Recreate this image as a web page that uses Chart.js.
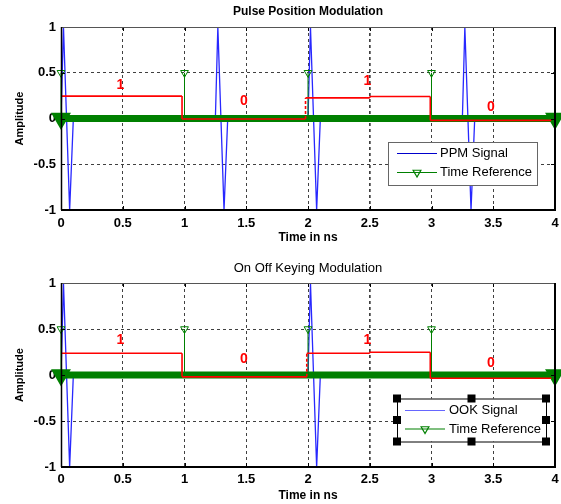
<!DOCTYPE html>
<html>
<head>
<meta charset="utf-8">
<script src="https://cdn.jsdelivr.net/npm/chart.js@4.4.0/dist/chart.umd.min.js"></script>
<style>
  body { margin: 0; background: #fff; }
  .plot { position: relative; width: 561px; height: 252px; }
</style>
</head>
<body>
<div class="plot"><canvas id="ppmChart" width="561" height="252"></canvas></div>
<div class="plot"><canvas id="ookChart" width="561" height="252"></canvas></div>
<script>
// ---- values (time in ns, amplitude) ----
const xTicks = [0, 0.5, 1, 1.5, 2, 2.5, 3, 3.5, 4];
const yTicks = [-1, -0.5, 0, 0.5, 1];

const bits = ["1", "0", "1", "0"];
const bitLabelTime = [0.48, 1.48, 2.48, 3.48];
const ppmBitLabelAmp = [0.37, 0.19, 0.41, 0.12];
const ookBitLabelAmp = [0.38, 0.17, 0.38, 0.13];

// time reference stems
const refTime = [0, 1, 2, 3];
const refAmp = [0.5, 0.5, 0.5, 0.5];
// dense reference markers along zero
const baseTime = [0, 4];
const baseAmp = [0, 0];

// PPM signal (bit 0 -> pulse shifted by 0.25 ns)
const ppmTime = [0, 0.02, 0.045, 0.07, 0.1, 1.25, 1.27, 1.295, 1.32, 1.35,
                 2.0, 2.02, 2.045, 2.07, 2.1, 3.25, 3.27, 3.295, 3.32, 3.35, 4];
const ppmAmp = [0, 1, 0, -1, 0, 0, 1, 0, -1, 0,
                0, 1, 0, -1, 0, 0, 1, 0, -1, 0, 0];

// OOK signal (pulses only for bit 1)
const ookTime = [0, 0.02, 0.045, 0.07, 0.1, 2.0, 2.02, 2.045, 2.07, 2.1, 4];
const ookAmp = [0, 1, 0, -1, 0, 0, 1, 0, -1, 0, 0];

// data bits (red)
const ppmBitTime = [0, 0.98, 0.98, 1.98, 1.98, 2.5, 2.5, 2.99, 2.99, 3.97];
const ppmBitAmp = [0.245, 0.245, -0.005, -0.005, 0.225, 0.225, 0.24, 0.24, -0.02, -0.02];
const ookBitTime = [0, 0.98, 0.98, 1.99, 1.99, 2.5, 2.5, 2.99, 2.99, 3.97];
const ookBitAmp = [0.237, 0.237, -0.02, -0.02, 0.237, 0.237, 0.248, 0.248, -0.035, -0.035];

const FONT = "'Liberation Sans', Arial, Helvetica, sans-serif";
const GREEN = "#008000";

function xy(xs, ys) {
  return xs.map((x, i) => ({ x: x, y: ys[i] }));
}

function stems(xs, ys) {
  const pts = [];
  xs.forEach((x, i) => {
    pts.push({ x: x, y: 0 }, { x: x, y: ys[i] }, { x: x, y: null });
  });
  return pts;
}

function downTriangle(ctx, x, y, r) {
  ctx.beginPath();
  ctx.moveTo(x, y + r);
  ctx.lineTo(x - r * 0.866, y - r * 0.5);
  ctx.lineTo(x + r * 0.866, y - r * 0.5);
  ctx.closePath();
  ctx.stroke();
}

// axes box, inner ticks, bit labels and the legend
const matlabAxes = {
  id: "matlabAxes",
  afterDatasetsDraw(chart, args, opts) {
    const { ctx, chartArea: a, scales } = chart;
    ctx.save();

    // bit labels
    ctx.fillStyle = "#ff0000";
    ctx.font = "bold 14px " + FONT;
    ctx.textAlign = "center";
    ctx.textBaseline = "middle";
    bits.forEach((b, i) => {
      ctx.fillText(b, scales.x.getPixelForValue(bitLabelTime[i]),
        scales.y.getPixelForValue(opts.bitAmp[i]));
    });

    // inner tick marks
    ctx.strokeStyle = "#000";
    ctx.lineWidth = 1;
    ctx.beginPath();
    xTicks.forEach(v => {
      const px = Math.round(scales.x.getPixelForValue(v)) + 0.5;
      ctx.moveTo(px, a.bottom); ctx.lineTo(px, a.bottom - 4);
      ctx.moveTo(px, a.top); ctx.lineTo(px, a.top + 4);
    });
    yTicks.forEach(v => {
      const py = Math.round(scales.y.getPixelForValue(v)) + 0.5;
      ctx.moveTo(a.left, py); ctx.lineTo(a.left + 4, py);
      ctx.moveTo(a.right, py); ctx.lineTo(a.right - 4, py);
    });
    ctx.stroke();

    // box
    ctx.strokeStyle = "#555";
    ctx.beginPath();
    ctx.moveTo(a.left, a.top + 0.5); ctx.lineTo(a.right, a.top + 0.5);
    ctx.stroke();
    ctx.strokeStyle = "#000";
    ctx.lineWidth = 1.5;
    ctx.beginPath();
    ctx.moveTo(a.left + 0.5, a.top); ctx.lineTo(a.left + 0.5, a.bottom);
    ctx.stroke();
    ctx.lineWidth = 2;
    ctx.beginPath();
    ctx.moveTo(a.left, a.bottom); ctx.lineTo(a.right, a.bottom);
    ctx.moveTo(a.right, a.top); ctx.lineTo(a.right, a.bottom + 1);
    ctx.stroke();

    // legend
    const L = opts.legend;
    ctx.fillStyle = "#fff";
    ctx.fillRect(L.x, L.y, L.w, L.h);
    ctx.strokeStyle = L.border;
    ctx.lineWidth = 1;
    ctx.strokeRect(L.x + 0.5, L.y + 0.5, L.w, L.h);
    L.items.forEach((it, i) => {
      const y = L.y + L.rows[i];
      ctx.strokeStyle = it.color;
      ctx.lineWidth = 1.2;
      ctx.beginPath();
      ctx.moveTo(L.x + L.line[0], y);
      ctx.lineTo(L.x + L.line[1], y);
      ctx.stroke();
      if (it.marker) {
        downTriangle(ctx, L.x + (L.line[0] + L.line[1]) / 2, y, 4.5);
      }
      ctx.fillStyle = "#000";
      ctx.font = "13px " + FONT;
      ctx.textAlign = "left";
      ctx.textBaseline = "middle";
      ctx.fillText(it.text, L.x + L.textX, y);
    });
    if (L.handles) {
      ctx.fillStyle = "#000";
      const hx = [L.x, L.x + L.w / 2, L.x + L.w];
      const hy = [L.y, L.y + L.h / 2, L.y + L.h];
      hx.forEach((x, i) => hy.forEach((y, j) => {
        if (i === 1 && j === 1) return;
        ctx.fillRect(x - 4, y - 4, 8, 8);
      }));
    }
    ctx.restore();
  }
};

function makeChart(id, cfg) {
  return new Chart(document.getElementById(id), {
    type: "line",
    data: {
      datasets: [
        {
          label: "data",
          data: xy(cfg.bitTime, cfg.bitAmp),
          borderColor: "#ff0000",
          borderWidth: 1.6,
          segment: {
            borderDash: c => (c.p0.parsed.x === c.p1.parsed.x ? [3, 2] : undefined)
          }
        },
        {
          label: "Time Reference",
          data: stems(refTime, refAmp),
          borderColor: GREEN,
          borderWidth: 1,
          pointStyle: "triangle",
          rotation: 180,
          pointRadius: c => (c.raw && c.raw.y > 0 ? 4.5 : 0),
          pointBorderColor: GREEN,
          pointBackgroundColor: "rgba(0,0,0,0)",
          pointBorderWidth: 1,
          clip: false
        },
        {
          label: "reference markers",
          data: xy(baseTime, baseAmp),
          borderColor: GREEN,
          borderWidth: 7,
          borderCapStyle: "butt",
          pointStyle: "triangle",
          rotation: 180,
          pointRadius: 4.5,
          pointBorderColor: GREEN,
          pointBackgroundColor: GREEN,
          clip: false
        },
        {
          label: cfg.signalName,
          data: xy(cfg.sigTime, cfg.sigAmp),
          borderColor: "#2828ff",
          borderWidth: 1.3
        }
      ]
    },
    options: {
      responsive: false,
      animation: false,
      parsing: false,
      elements: { line: { tension: 0 }, point: { radius: 0 } },
      layout: { autoPadding: false, padding: { left: 0, right: 6, top: 0, bottom: 0 } },
      scales: {
        x: {
          type: "linear",
          min: 0,
          max: 4,
          afterBuildTicks: s => { s.ticks = xTicks.map(v => ({ value: v })); },
          afterFit: s => {
            s.height = cfg.xAxisHeight;
            s.paddingLeft = 0;
            s.paddingRight = 0;
          },
          grid: {
            color: "rgba(0,0,0,0.75)",
            lineWidth: c => (c.tick && c.tick.value === 2.5 ? 1.7 : 1),
            drawTicks: false
          },
          border: { display: false, dash: [3, 3] },
          ticks: {
            color: "#000",
            font: { family: FONT, size: 13, weight: "bold" },
            padding: cfg.xTickPad,
            maxRotation: 0,
            callback: v => String(v)
          },
          title: {
            display: true,
            text: "Time in ns",
            color: "#000",
            font: { family: FONT, size: 12, weight: "bold" },
            padding: { top: 0, bottom: cfg.xTitlePad }
          }
        },
        y: {
          type: "linear",
          min: -1,
          max: 1,
          afterBuildTicks: s => { s.ticks = yTicks.map(v => ({ value: v })); },
          afterFit: s => { s.width = 61; },
          grid: {
            color: "rgba(0,0,0,0.75)",
            drawTicks: false
          },
          border: { display: false, dash: [3, 3] },
          ticks: {
            color: "#000",
            font: { family: FONT, size: 13, weight: "bold" },
            padding: 5,
            callback: v => String(v)
          },
          title: {
            display: true,
            text: "Amplitude",
            color: "#000",
            font: { family: FONT, size: 11, weight: "bold" },
            padding: { top: 13.4, bottom: 0 }
          }
        }
      },
      plugins: {
        legend: { display: false },
        tooltip: { enabled: false },
        title: {
          display: true,
          fullSize: false,
          text: cfg.title,
          color: "#000",
          font: { family: FONT, size: cfg.titleSize, weight: cfg.titleWeight, lineHeight: 1.2 },
          padding: cfg.titlePad
        },
        matlabAxes: { bitAmp: cfg.bitLabelAmp, legend: cfg.legend }
      }
    },
    plugins: [matlabAxes]
  });
}

makeChart("ppmChart", {
  title: "Pulse Position Modulation",
  titleSize: 12,
  titleWeight: "bold",
  titlePad: { top: 4.8, bottom: 7.8 },
  xAxisHeight: 42,
  xTickPad: 6,
  xTitlePad: 6.8,
  signalName: "PPM Signal",
  sigTime: ppmTime,
  sigAmp: ppmAmp,
  bitTime: ppmBitTime,
  bitAmp: ppmBitAmp,
  bitLabelAmp: ppmBitLabelAmp,
  legend: {
    x: 388, y: 142, w: 149, h: 43, border: "#666",
    line: [9, 49], textX: 52, rows: [11.5, 30.5], handles: false,
    items: [
      { text: "PPM Signal", color: "#0000cc" },
      { text: "Time Reference", color: GREEN, marker: true }
    ]
  }
});

makeChart("ookChart", {
  title: "On Off Keying Modulation",
  titleSize: 13,
  titleWeight: "normal",
  titlePad: { top: 8.2, bottom: 7.2 },
  xAxisHeight: 37,
  xTickPad: 5,
  xTitlePad: 1.4,
  signalName: "OOK Signal",
  sigTime: ookTime,
  sigAmp: ookAmp,
  bitTime: ookBitTime,
  bitAmp: ookBitAmp,
  bitLabelAmp: ookBitLabelAmp,
  legend: {
    x: 397, y: 146.5, w: 149, h: 43, border: "#000",
    line: [8, 48], textX: 52, rows: [12, 30.5], handles: true,
    items: [
      { text: "OOK Signal", color: "#6666ff" },
      { text: "Time Reference", color: GREEN, marker: true }
    ]
  }
});
</script>
</body>
</html>
